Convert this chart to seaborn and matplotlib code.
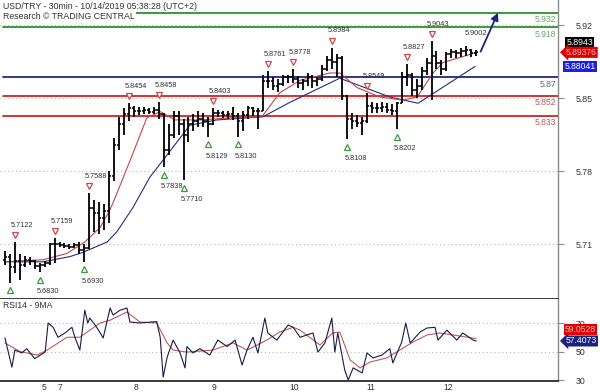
import numpy as np
import pandas as pd
import matplotlib
matplotlib.use("Agg")
import matplotlib.pyplot as plt
import matplotlib.transforms as mtrans
import seaborn as sns

# ---------------- data ----------------
title_line1 = "USD/TRY - 30min - 10/14/2019 05:38:28 (UTC+2)"
title_line2 = "Research \u00a9 TRADING CENTRAL"

first_open = 5.695
bar_high = [5.703, 5.700, 5.7122, 5.700, 5.699, 5.698, 5.695, 5.692, 5.694, 5.711,
            5.7159, 5.712, 5.711, 5.710, 5.711, 5.712, 5.710, 5.7588, 5.752, 5.750,
            5.748, 5.780, 5.812, 5.832, 5.840, 5.8454, 5.842, 5.841, 5.841, 5.840,
            5.841, 5.8458, 5.836, 5.825, 5.838, 5.838, 5.830, 5.832, 5.835, 5.838,
            5.836, 5.832, 5.8403, 5.839, 5.838, 5.838, 5.841, 5.836, 5.838, 5.842,
            5.841, 5.840, 5.872, 5.8761, 5.870, 5.868, 5.872, 5.872, 5.8778, 5.871,
            5.868, 5.874, 5.872, 5.870, 5.882, 5.890, 5.8984, 5.892, 5.890, 5.853,
            5.836, 5.834, 5.832, 5.8549, 5.846, 5.845, 5.846, 5.845, 5.844, 5.846,
            5.875, 5.8827, 5.874, 5.868, 5.880, 5.888, 5.9043, 5.895, 5.886, 5.894,
            5.897, 5.896, 5.898, 5.9002, 5.897, 5.896]
bar_low = [5.690, 5.673, 5.682, 5.676, 5.688, 5.690, 5.686, 5.6830, 5.688, 5.690,
           5.692, 5.707, 5.706, 5.705, 5.706, 5.700, 5.6930, 5.705, 5.722, 5.720,
           5.723, 5.730, 5.770, 5.800, 5.815, 5.828, 5.832, 5.834, 5.835, 5.835,
           5.835, 5.830, 5.7838, 5.795, 5.812, 5.815, 5.7710, 5.808, 5.818, 5.822,
           5.822, 5.8129, 5.824, 5.832, 5.831, 5.830, 5.829, 5.8130, 5.818, 5.830,
           5.833, 5.820, 5.838, 5.860, 5.858, 5.856, 5.862, 5.864, 5.864, 5.860,
           5.858, 5.862, 5.860, 5.862, 5.866, 5.876, 5.878, 5.870, 5.848, 5.8108,
           5.820, 5.822, 5.815, 5.826, 5.836, 5.836, 5.837, 5.836, 5.834, 5.8202,
           5.845, 5.862, 5.852, 5.850, 5.858, 5.872, 5.848, 5.878, 5.872, 5.876,
           5.888, 5.888, 5.889, 5.890, 5.889, 5.890]
bar_close = [5.698, 5.688, 5.694, 5.690, 5.695, 5.694, 5.689, 5.690, 5.692, 5.710,
             5.710, 5.709, 5.708, 5.707, 5.709, 5.704, 5.706, 5.745, 5.740, 5.735,
             5.742, 5.775, 5.805, 5.825, 5.835, 5.840, 5.838, 5.838, 5.839, 5.837,
             5.839, 5.835, 5.800, 5.815, 5.833, 5.825, 5.815, 5.825, 5.828, 5.830,
             5.828, 5.825, 5.836, 5.836, 5.834, 5.835, 5.833, 5.828, 5.834, 5.840,
             5.838, 5.838, 5.866, 5.866, 5.862, 5.863, 5.870, 5.870, 5.868, 5.864,
             5.866, 5.870, 5.866, 5.868, 5.878, 5.886, 5.885, 5.888, 5.852, 5.830,
             5.828, 5.826, 5.828, 5.842, 5.840, 5.840, 5.841, 5.839, 5.838, 5.845,
             5.870, 5.872, 5.858, 5.862, 5.876, 5.884, 5.890, 5.884, 5.878, 5.892,
             5.894, 5.893, 5.895, 5.896, 5.893, 5.8943]

# moving averages (bar index, value)
ma_fast_t = [0, 7.7, 12.5, 16.1, 19.2, 21.2, 22.6, 25.8, 28.6, 31.3, 34.3, 39.3, 45.4,
             51.8, 55.4, 59.5, 65.5, 67.5, 71.0, 75.6, 80.2, 83.1, 86.3, 88.3, 93.2, 95.0]
ma_fast_v = [5.693, 5.695, 5.701, 5.712, 5.726, 5.743, 5.759, 5.797, 5.831, 5.837, 5.829,
             5.829, 5.831, 5.832, 5.855, 5.867, 5.874, 5.874, 5.860, 5.851, 5.848, 5.851,
             5.874, 5.884, 5.891, 5.8938]
ma_slow_t = [0, 7.7, 13.1, 15.7, 20.6, 22.6, 25.8, 29.2, 37.3, 42.7, 52.0, 57.5, 67.5,
             77.6, 83.3, 94.8]
ma_slow_v = [5.693, 5.693, 5.698, 5.702, 5.712, 5.722, 5.745, 5.774, 5.824, 5.829, 5.832,
             5.846, 5.869, 5.851, 5.845, 5.8804]

# support / resistance levels
res_levels = [5.932, 5.918]
pivot_level = [5.87]
sup_levels = [5.852, 5.833]

# marked highs / lows (bar index)
high_marks = [2, 10, 17, 25, 31, 42, 53, 58, 66, 73, 81, 86]
high_label_only = [93]
low_marks = [7, 16, 32, 36, 41, 47, 69, 79]
low_unlabeled = [1]

# RSI
rsi_t = [0, 1.4, 2.0, 3.4, 4.4, 6.0, 8.1, 8.7, 9.7, 10.7, 12.1, 13.5, 14.1, 15.1, 16.1,
         16.7, 17.1, 18.5, 19.8, 21.2, 21.8, 23.2, 24.6, 25.2, 27.2, 30.6, 31.3, 31.9,
         32.7, 33.9, 35.3, 36.3, 36.7, 37.9, 39.3, 41.3, 42.9, 44.8, 46.4, 47.8, 48.8,
         50.0, 51.0, 52.4, 53.0, 54.8, 57.1, 58.1, 59.5, 62.1, 63.1, 64.5, 65.9, 66.5,
         67.1, 68.5, 69.2, 70.2, 72.0, 73.0, 74.2, 76.0, 77.6, 78.2, 80.0, 80.8, 81.7,
         83.7, 85.1, 86.7, 87.3, 89.1, 91.1, 92.3, 94.4, 95.0]
rsi_v = [59.5, 39, 51, 49, 52, 45, 49.6, 70, 67, 60, 63, 67, 60, 51, 79, 70, 73.5, 67,
         59.5, 80.5, 75.6, 79, 80.5, 70.7, 70, 71, 60, 32, 46, 58, 49, 38.5, 53.5, 49, 52,
         47.5, 58, 53.5, 58, 40.5, 51, 60, 49, 73.5, 63, 58, 68.6, 67, 60, 63, 49.6, 56,
         73.5, 49.6, 63, 37, 30, 38.5, 35, 49, 45.5, 47.5, 52, 42, 56.7, 70, 56, 63.7,
         66.5, 67, 58, 65, 58, 63, 58, 57.4073]
rsi_ma_t = [0, 3.0, 6.5, 8.5, 12.5, 15.1, 19.2, 21.2, 24.6, 27.2, 30.6, 32.7, 33.9, 36.7,
            41.9, 46.0, 48.8, 52.8, 55.4, 58.1, 59.5, 63.5, 66.1, 67.5, 69.6, 71.6, 73.6,
            77.0, 79.6, 82.3, 85.1, 87.7, 90.3, 95.0]
rsi_ma_v = [56, 50, 47.5, 51, 60, 60, 70, 72, 77.7, 70.7, 70, 56, 51, 49.6, 51, 56, 51,
            58, 63.7, 67, 65, 54.6, 63, 63.7, 44, 38.5, 42.6, 45.5, 51, 56.7, 61.6, 63,
            61.6, 59.0528]

day_ticks = [7.46, 10.7, 26.0, 41.7, 57.3, 72.8, 88.3]
day_labels = ["5", "7", "8", "9", "10", "11", "12"]
price_ticks = [5.71, 5.78, 5.85, 5.92]
rsi_ticks = [30, 50, 70]

# ---------------- styling ----------------
sns.set_style("white")
plt.rcParams["font.family"] = ["Liberation Sans", "DejaVu Sans"]

C_TXT = "#333333"
C_GREEN = "#2f8f2f"
C_BLUE = "#1c2a80"
C_RED = "#d42020"

fig = plt.figure(figsize=(6, 3.92), dpi=100)
W, H = 600.0, 392.0
ax = fig.add_axes([0, 1 - 298.5 / H, 558 / W, 298.5 / H])
axr = fig.add_axes([0, 1 - 381 / H, 558 / W, (381 - 298.5) / H], sharex=ax)

bars = pd.DataFrame({"t": np.arange(len(bar_close)), "high": bar_high,
                     "low": bar_low, "close": bar_close})
bars["open"] = bars["close"].shift(1).fillna(first_open)

# grid
for a in (ax, axr):
    a.yaxis.grid(True, linestyle=(0, (1, 2.5)), color="#b8b8b8", lw=0.8)
    a.set_axisbelow(True)

# levels
def level(lv, fmt, lcol, tcol):
    ax.axhline(lv, xmin=0.005, color=lcol, lw=1.3, zorder=2)
    ax.annotate(fmt.format(lv), xy=(1, lv), xycoords=ax.get_yaxis_transform(),
                xytext=(-1.5, -5), textcoords="offset points", ha="right", va="center",
                fontsize=6.2, color=tcol)

for lv in res_levels:
    level(lv, "{:.3f}", C_GREEN, "#6aa86a")
for lv in pivot_level:
    level(lv, "{:.2f}", C_BLUE, "#5a64a0")
for lv in sup_levels:
    level(lv, "{:.3f}", C_RED, "#c05a5a")

# moving averages
sns.lineplot(x=ma_slow_t, y=ma_slow_v, ax=ax, color="#2a2a80", lw=0.8, zorder=3)
sns.lineplot(x=ma_fast_t, y=ma_fast_v, ax=ax, color="#c04848", lw=0.8, zorder=3)

# OHLC bars
ax.vlines(bars["t"], bars["low"], bars["high"], color="black", lw=1.3, zorder=4)
ax.hlines(bars["open"], bars["t"] - 0.45, bars["t"], color="black", lw=1.1, zorder=4)
ax.hlines(bars["close"], bars["t"], bars["t"] + 0.45, color="black", lw=1.1, zorder=4)

# high / low labels
for i in high_marks:
    v = bar_high[i]
    ax.annotate(f"{v:.4f}", xy=(i, v), xytext=(5, 12), textcoords="offset points",
                ha="center", va="center", fontsize=5.3, color=C_TXT, zorder=6)
for i in high_label_only:
    v = bar_high[i]
    ax.annotate(f"{v:.4f}", xy=(i, v), xytext=(7, 9), textcoords="offset points",
                ha="center", va="center", fontsize=5.3, color=C_TXT, zorder=6)
for i in low_marks:
    v = bar_low[i]
    ax.annotate(f"{v:.4f}", xy=(i, v), xytext=(6, -14), textcoords="offset points",
                ha="center", va="center", fontsize=5.3, color=C_TXT, zorder=6)

# triangles
for i in high_marks:
    tr = ax.transData + mtrans.ScaledTranslation(0, 5 / 72, fig.dpi_scale_trans)
    ax.plot([i], [bar_high[i]], marker="v", ms=5, mfc="white", mec="#d04848",
            mew=0.9, ls="none", zorder=5, transform=tr)
for i in low_marks + low_unlabeled:
    tr = ax.transData + mtrans.ScaledTranslation(0, -5.5 / 72, fig.dpi_scale_trans)
    ax.plot([i], [bar_low[i]], marker="^", ms=5, mfc="white", mec="#3a9a3a",
            mew=0.9, ls="none", zorder=5, transform=tr)

# target arrow
ax.annotate("", xy=(99.4, 5.9318), xytext=(95.9, 5.8945),
            arrowprops=dict(arrowstyle="-|>", color="#1a237e", lw=1.3,
                            mutation_scale=11, shrinkA=0, shrinkB=0), zorder=7)

# RSI
sns.lineplot(x=rsi_ma_t, y=rsi_ma_v, ax=axr, color="#c05a5a", lw=0.8)
sns.lineplot(x=rsi_t, y=rsi_v, ax=axr, color="#1a1a4a", lw=0.8)

# axes limits and spines
ax.set_xlim(-1.0, 111.5)
ax.set_ylim(5.6578, 5.944)
axr.set_ylim(29.3, 87.2)

for a in (ax, axr):
    a.spines["left"].set_visible(False)
    a.spines["top"].set_visible(False)
    a.spines["right"].set_color("#8a8a8a")
    a.spines["right"].set_linewidth(1.0)
    a.spines["bottom"].set_color("#3a3a3a")
    a.spines["bottom"].set_linewidth(1.4)
    a.set_xlabel("")
    a.set_ylabel("")

ax.yaxis.tick_right()
ax.set_yticks(price_ticks)
ax.set_yticklabels([f"{t:.2f}" for t in price_ticks])
ax.tick_params(axis="y", direction="out", length=4, pad=9, labelsize=6.3,
               labelcolor=C_TXT, color="#8a8a8a")
ax.tick_params(axis="x", length=0, labelbottom=False)

axr.yaxis.tick_right()
axr.set_yticks(rsi_ticks)
axr.set_yticklabels([str(t) for t in rsi_ticks])
axr.tick_params(axis="y", direction="out", length=4, pad=9, labelsize=6.3,
                labelcolor=C_TXT, color="#8a8a8a")
axr.set_xticks(day_ticks)
axr.set_xticklabels(day_labels, ha="left")
axr.tick_params(axis="x", which="major", direction="out", length=3, pad=-1.5,
                labelsize=6.2, labelcolor=C_TXT, color="#555555")
axr.set_xticks(np.arange(0, 111, 1.0), minor=True)
axr.tick_params(axis="x", which="minor", direction="out", length=1.5, color="#999999")
for lbl in axr.get_xticklabels():
    lbl.set_ha("left")

# titles
fig.text(3 / W, 1 - 6.5 / H, title_line1, fontsize=6.3, color=C_TXT, va="center",
         ha="left", bbox=dict(fc="white", ec="none", pad=0.3), zorder=10)
fig.text(3 / W, 1 - 16.5 / H, title_line2, fontsize=6.3, color=C_TXT, va="center",
         ha="left", bbox=dict(fc="white", ec="none", pad=0.6), zorder=10)
axr.text(0.005, 0.92, "RSI14 - 9MA", transform=axr.transAxes, fontsize=6.2,
         color=C_TXT, va="center", ha="left")

# value boxes at the right
ytr = ax.get_yaxis_transform()
ax.text(1.015, 5.9032, "5.8943", transform=ytr, fontsize=6.3, color="white",
        va="center", ha="left", clip_on=False,
        bbox=dict(boxstyle="square,pad=0.15", fc="black", ec="none"))
ax.text(1.014, 5.8938, "5.89376", transform=ytr, fontsize=6.2, color="#ffb8b8",
        va="center", ha="left", clip_on=False,
        bbox=dict(boxstyle="larrow,pad=0.12", fc="#e00000", ec="none"))
ax.text(1.012, 5.8804, "5.88041", transform=ytr, fontsize=6.2, color="white",
        va="center", ha="left", clip_on=False,
        bbox=dict(boxstyle="square,pad=0.15", fc="#1e1ee0", ec="none"))
rtr = axr.get_yaxis_transform()
axr.text(1.012, 65.6, "59.0528", transform=rtr, fontsize=6.2, color="#ffb8b8",
         va="center", ha="left", clip_on=False, zorder=10,
         bbox=dict(boxstyle="square,pad=0.12", fc="#e00000", ec="none"))
axr.text(1.014, 57.4, "57.4073", transform=rtr, fontsize=6.2, color="white",
         va="center", ha="left", clip_on=False,
         bbox=dict(boxstyle="larrow,pad=0.12", fc="#1a237e", ec="none"))

fig.savefig("out.png", dpi=100)
